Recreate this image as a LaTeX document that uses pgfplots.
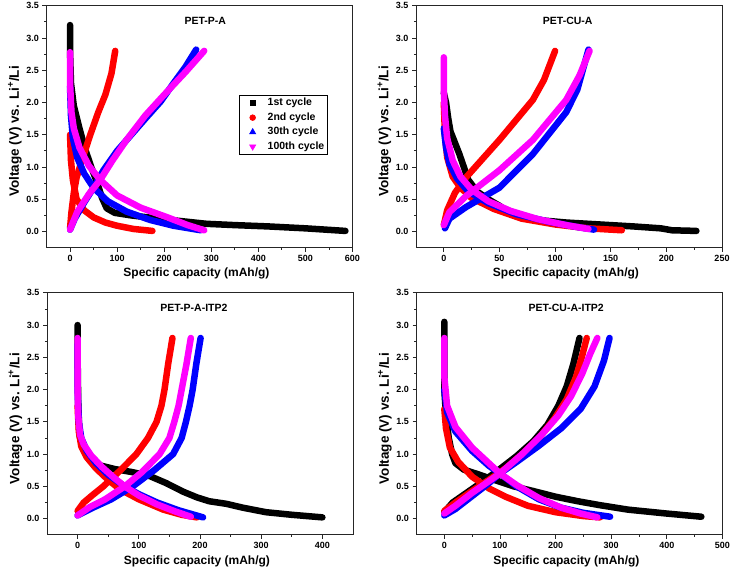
\documentclass[border=0pt]{standalone}
\usepackage{fontspec}
\setmainfont{Liberation Sans}
\usepackage{pgfplots}
\pgfplotsset{compat=1.18}
\definecolor{cmag}{RGB}{255,0,255}
\pgfplotsset{
 panel/.style={
  scale only axis, width=306pt, height=242pt,
  anchor=south west,
  ymin=-0.25, ymax=3.5, ytick={0,0.5,1,1.5,2,2.5,3,3.5},
  minor tick num=1, tick align=outside, xtick pos=left, ytick pos=left,
  major tick length=4pt, minor tick length=2.2pt,
  axis line style={line width=0.8pt, black!85},
  every tick/.style={line width=0.8pt, black!85},
  yticklabel style={/pgf/number format/.cd, fixed, fixed zerofill, precision=1},
  /pgf/number format/assume math mode=true,
  ticklabel style={font=\fontsize{9}{10}\selectfont\bfseries},
  xlabel={Specific capacity (mAh/g)},
  ylabel={Voltage (V) vs. Li\textsuperscript{+}/Li},
  xlabel style={font=\fontsize{12}{14}\selectfont\bfseries, at={(axis description cs:0.49,0)}, anchor=base, yshift=-29.3pt, inner sep=0pt},
  ylabel style={font=\fontsize{13.5}{15}\selectfont\bfseries, at={(axis description cs:-0.08,0.48)}, anchor=south, inner sep=0pt},
 },
 curve/.style={line width=6.5pt, line join=round, line cap=round, forget plot},
}
\newcommand{\paneltitle}[2]{\node[font=\fontsize{10.5}{12}\selectfont\bfseries, anchor=base, inner sep=0pt] at (rel axis cs:#1,0.924) {#2};}
\begin{document}
\begin{tikzpicture}[x=1pt,y=1pt]
\useasboundingbox (0,0) rectangle (732,573);
% Panel 1
\begin{axis}[panel, at={(46.5pt,325.3pt)}, xmin=-50, xmax=600, xtick={0,100,200,300,400,500,600},
  legend image code/.code={\path[draw=none, fill=none] (0pt,0pt) -- (22pt,0pt); \path[#1, draw=none] plot coordinates {(10pt,0pt)};},
  legend style={at={(0.630,0.631)}, anchor=north west, draw=black, line width=0.8pt,
  font=\fontsize{10.5}{12}\selectfont\bfseries, inner xsep=3pt, inner ysep=2.5pt, row sep=4pt, column sep=3pt,
  nodes={inner sep=0pt, text height=8pt, text depth=2.5pt}, cells={anchor=west}}]
\addplot[curve, black] coordinates {(0,3.2) (0,2.8) (2,2.3) (8,1.95) (20,1.6) (32,1.28) (45,1.0) (58,0.75) (68,0.52) (78,0.36) (95,0.29) (130,0.25) (200,0.19) (290,0.12) (350,0.1) (420,0.08) (500,0.05) (585,0.01)};
\addplot[curve, red] coordinates {(0,1.5) (2,1.1) (6,0.8) (14,0.5) (30,0.33) (50,0.22) (75,0.14) (100,0.09) (135,0.04) (175,0.01)};
\addplot[curve, red] coordinates {(0,0.05) (3,0.3) (8,0.6) (14,0.84) (25,1.1) (43,1.5) (60,1.85) (75,2.12) (88,2.45) (96,2.8)};
\addplot[curve, blue] coordinates {(0,2.25) (2,1.8) (6,1.45) (15,1.15) (30,0.9) (50,0.68) (80,0.47) (120,0.31) (170,0.18) (220,0.09) (278,0.02)};
\addplot[curve, blue] coordinates {(0,0.03) (10,0.2) (30,0.45) (50,0.68) (71,0.95) (100,1.25) (130,1.5) (160,1.75) (193,2.02) (220,2.3) (245,2.55) (268,2.82)};
\addplot[curve, cmag] coordinates {(0,2.78) (0,2.3) (3,1.85) (8,1.6) (20,1.3) (40,1.02) (64,0.8) (100,0.56) (150,0.37) (207,0.22) (250,0.1) (285,0.02)};
\addplot[curve, cmag] coordinates {(0,0.03) (15,0.3) (40,0.58) (64,0.8) (90,1.1) (120,1.42) (160,1.8) (200,2.12) (245,2.47) (285,2.8)};
\addlegendimage{only marks, mark=square*, mark size=2.6pt, black, mark options={fill=black, draw=black}}
\addlegendentry{1st cycle}
\addlegendimage{only marks, mark=*, mark size=2.8pt, red, mark options={fill=red, draw=red}}
\addlegendentry{2nd cycle}
\addlegendimage{only marks, mark=triangle*, mark size=3.4pt, blue, mark options={fill=blue, draw=blue}}
\addlegendentry{30th cycle}
\addlegendimage{only marks, mark=triangle*, mark options={rotate=180, fill=cmag, draw=cmag}, mark size=3.4pt, cmag}
\addlegendentry{100th cycle}
\paneltitle{0.519}{PET-P-A}
\end{axis}
% Panel 2
\begin{axis}[panel, at={(416pt,325.3pt)}, xmin=-25, xmax=250, xtick={0,50,100,150,200,250}]
\addplot[curve, black] coordinates {(0,2.15) (2,2.0) (4,1.75) (6,1.55) (9,1.42) (14,1.2) (18,1.0) (22,0.8) (30,0.62) (40,0.5) (50,0.4) (58,0.3) (70,0.22) (90,0.17) (110,0.14) (140,0.11) (170,0.08) (195,0.05) (205,0.02) (227,0.01)};
\addplot[curve, red] coordinates {(0,2.0) (1,1.5) (3,1.15) (8,0.85) (15,0.68) (25,0.52) (45,0.35) (70,0.2) (100,0.11) (130,0.05) (160,0.02)};
\addplot[curve, red] coordinates {(0,0.1) (3,0.33) (10,0.6) (20,0.84) (35,1.13) (50,1.42) (65,1.73) (80,2.04) (90,2.35) (100,2.8)};
\addplot[curve, blue] coordinates {(0,1.6) (2,1.3) (5,1.05) (12,0.82) (22,0.62) (40,0.44) (65,0.27) (95,0.15) (120,0.07) (135,0.03)};
\addplot[curve, blue] coordinates {(1,0.05) (5,0.2) (20,0.38) (50,0.68) (80,1.2) (110,1.85) (120,2.2) (130,2.82)};
\addplot[curve, cmag] coordinates {(0,2.7) (0,2.2) (1,1.8) (3,1.45) (8,1.1) (15,0.85) (25,0.65) (40,0.47) (60,0.32) (85,0.19) (110,0.1) (130,0.04)};
\addplot[curve, cmag] coordinates {(0,0.1) (5,0.3) (20,0.55) (50,0.95) (80,1.42) (110,2.04) (122,2.42) (131,2.8)};
\paneltitle{0.496}{PET-CU-A}
\end{axis}
% Panel 3
\begin{axis}[panel, at={(47pt,38.2pt)}, xmin=-50, xmax=450, xtick={0,100,200,300,400}]
\addplot[curve, black] coordinates {(0,3.0) (0,2.5) (1,1.8) (3,1.3) (8,1.1) (18,0.93) (35,0.83) (60,0.77) (90,0.72) (118,0.66) (145,0.55) (172,0.42) (195,0.33) (215,0.27) (243,0.23) (270,0.17) (308,0.1) (350,0.06) (400,0.02)};
\addplot[curve, red] coordinates {(0,1.75) (2,1.35) (6,1.12) (15,0.95) (30,0.78) (50,0.6) (70,0.45) (100,0.3) (140,0.14) (170,0.06) (195,0.02)};
\addplot[curve, red] coordinates {(0,0.12) (10,0.25) (25,0.37) (42,0.5) (70,0.75) (96,1.0) (115,1.25) (129,1.5) (137,1.75) (142,2.0) (148,2.4) (155,2.8)};
\addplot[curve, blue] coordinates {(0,2.7) (0,2.0) (2,1.5) (6,1.25) (15,1.05) (30,0.86) (50,0.68) (77,0.5) (100,0.38) (130,0.25) (165,0.13) (205,0.02)};
\addplot[curve, blue] coordinates {(0,0.05) (25,0.17) (55,0.3) (90,0.5) (125,0.75) (156,1.0) (170,1.25) (177,1.5) (183,1.75) (188,2.0) (194,2.4) (201,2.8)};
\addplot[curve, cmag] coordinates {(0,2.8) (0,2.0) (1,1.6) (4,1.3) (10,1.15) (22,0.98) (40,0.8) (60,0.63) (77,0.5) (100,0.36) (130,0.22) (160,0.11) (185,0.03)};
\addplot[curve, cmag] coordinates {(0,0.05) (20,0.18) (45,0.3) (77,0.5) (105,0.72) (134,1.0) (150,1.25) (158,1.5) (165,1.75) (170,2.0) (178,2.4) (185,2.8)};
\paneltitle{0.48}{PET-P-A-ITP2}
\end{axis}
% Panel 4
\begin{axis}[panel, at={(416.5pt,38.2pt)}, xmin=-50, xmax=500, xtick={0,100,200,300,400,500}]
\addplot[curve, black] coordinates {(0,3.05) (0,2.0) (3,1.6) (8,1.25) (14,1.0) (20,0.86) (35,0.76) (60,0.69) (90,0.6) (125,0.5) (159,0.43) (200,0.34) (240,0.27) (279,0.21) (330,0.14) (399,0.08) (462,0.03)};
\addplot[curve, black] coordinates {(0,0.1) (15,0.25) (40,0.4) (70,0.58) (100,0.77) (130,0.97) (160,1.2) (185,1.45) (205,1.75) (220,2.05) (232,2.4) (243,2.8)};
\addplot[curve, red] coordinates {(0,1.7) (3,1.4) (10,1.1) (25,0.88) (50,0.65) (80,0.47) (110,0.34) (150,0.2) (200,0.1) (250,0.04) (280,0.02)};
\addplot[curve, red] coordinates {(0,0.12) (20,0.25) (50,0.43) (80,0.6) (110,0.78) (140,1.0) (170,1.25) (198,1.55) (220,1.85) (237,2.2) (247,2.5) (256,2.8)};
\addplot[curve, blue] coordinates {(0,2.0) (5,1.65) (20,1.35) (50,1.05) (80,0.82) (100,0.7) (130,0.5) (170,0.3) (210,0.17) (250,0.09) (298,0.03)};
\addplot[curve, blue] coordinates {(0,0.05) (20,0.15) (50,0.35) (80,0.55) (100,0.7) (130,0.88) (170,1.13) (210,1.4) (245,1.7) (270,2.05) (287,2.45) (297,2.8)};
\addplot[curve, cmag] coordinates {(0,2.8) (0,2.2) (5,1.75) (20,1.42) (50,1.1) (80,0.86) (100,0.7) (130,0.52) (170,0.32) (210,0.17) (245,0.08) (275,0.02)};
\addplot[curve, cmag] coordinates {(0,0.08) (20,0.2) (50,0.4) (80,0.58) (100,0.7) (140,1.0) (175,1.3) (205,1.6) (228,1.9) (248,2.25) (262,2.55) (275,2.8)};
\paneltitle{0.489}{PET-CU-A-ITP2}
\end{axis}
\end{tikzpicture}
\end{document}
